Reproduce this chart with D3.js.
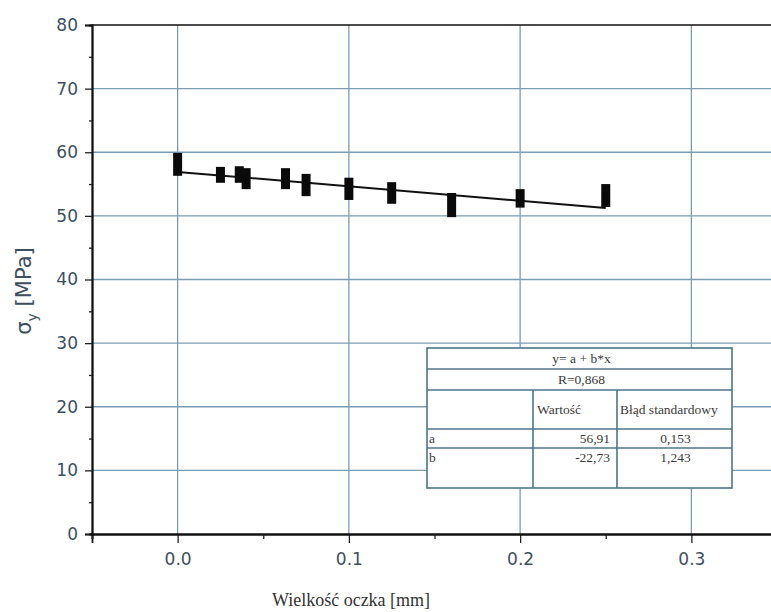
<!DOCTYPE html>
<html lang="pl">
  <head>
    <meta charset="utf-8" />
    <title>Wielkość oczka</title>
    <script src="https://cdn.jsdelivr.net/npm/d3@7"></script>
    <style>
body { margin: 0; background: white; }
    </style>
  </head>
  <body>
    <script>
// mesh size [mm] and measured yield stress range [MPa]
var meshSize = [0, 0.025, 0.036, 0.04, 0.063, 0.075, 0.1, 0.125, 0.16, 0.2, 0.25];
var sigmaLow  = [56.3, 55.2, 55.2, 54.2, 54.2, 53.1, 52.5, 51.9, 49.8, 51.3, 51.4];
var sigmaHigh = [59.9, 57.7, 57.8, 57.5, 57.5, 56.6, 56.0, 55.3, 53.6, 54.2, 55.0];

// linear fit y = a + b*x
var fitA = 56.91;
var fitB = -22.73;
var fitRange = [0, 0.25];

var xTicks = [0.0, 0.1, 0.2, 0.3];
var xMinor = [-0.05, 0.05, 0.15, 0.25, 0.35];
var yTicks = [0, 10, 20, 30, 40, 50, 60, 70, 80];
var yMinor = [5, 15, 25, 35, 45, 55, 65, 75];

var tableTitle = ["y= a + b*x", "R=0,868"];
var tableHead = ["", "Wartość", "Błąd standardowy"];
var paramNames = ["a", "b"];
var paramValues = ["56,91", "-22,73"];
var paramErrors = ["0,153", "1,243"];

var w = 771, h = 612;
var gridColor = "#7b9db3";
var labelColor = "#3d4f5f";
var sans = "'DejaVu Sans', Verdana, sans-serif";
var serif = "'Liberation Serif', 'Times New Roman', serif";

var svg = d3.select("body").append("svg")
            .attr("width", w)
            .attr("height", h);

var x = d3.scaleLinear().domain([-0.05, 0.35]).range([92, 777]);
var y = d3.scaleLinear().domain([0, 80]).range([534, 25]);

// grid
svg.append("g").selectAll("line")
   .data(xTicks).enter().append("line")
   .attr("x1", function(d) { return x(d); })
   .attr("x2", function(d) { return x(d); })
   .attr("y1", y(0)).attr("y2", y(80))
   .attr("stroke", gridColor).attr("stroke-width", 1.3);
svg.append("g").selectAll("line")
   .data(yTicks.slice(1, -1)).enter().append("line")
   .attr("x1", x(-0.05)).attr("x2", w)
   .attr("y1", function(d) { return y(d); })
   .attr("y2", function(d) { return y(d); })
   .attr("stroke", gridColor).attr("stroke-width", 1.3);

// frame top
svg.append("line")
   .attr("x1", x(-0.05)).attr("x2", w)
   .attr("y1", y(80)).attr("y2", y(80))
   .attr("stroke", "#111").attr("stroke-width", 1.5);

// axes
svg.append("g")
   .attr("transform", "translate(0," + y(0) + ")")
   .call(d3.axisBottom(x).tickValues(xTicks).tickFormat(d3.format(".1f"))
           .tickSize(9).tickPadding(10));
svg.append("g")
   .attr("transform", "translate(0," + y(0) + ")")
   .call(d3.axisBottom(x).tickValues(xMinor).tickFormat("").tickSize(5));
svg.append("g")
   .attr("transform", "translate(" + x(-0.05) + ",0)")
   .call(d3.axisLeft(y).tickValues(yTicks).tickSize(7).tickPadding(7));
svg.append("g")
   .attr("transform", "translate(" + x(-0.05) + ",0)")
   .call(d3.axisLeft(y).tickValues(yMinor).tickFormat("").tickSize(3));

svg.selectAll(".domain").attr("stroke", "#111").attr("stroke-width", 1.8);
svg.selectAll(".tick line").attr("stroke", "#222").attr("stroke-width", 1.3);
svg.selectAll(".tick text")
   .attr("font-size", "17px")
   .attr("font-family", sans)
   .attr("fill", labelColor);

// axis titles
svg.append("text")
   .attr("x", 351).attr("y", 606)
   .attr("text-anchor", "middle")
   .attr("font-family", serif)
   .attr("font-size", "18px").attr("fill", "#333")
   .text("Wielkość oczka [mm]");
var yt = svg.append("text")
   .attr("transform", "translate(31,291) rotate(-90)")
   .attr("text-anchor", "middle")
   .attr("font-family", sans)
   .attr("font-size", "21px").attr("fill", labelColor);
yt.append("tspan").text("σ");
yt.append("tspan").attr("font-size", "14px").attr("dy", 6).text("y");
yt.append("tspan").attr("dy", -6).text(" [MPa]");

// fit line
svg.append("line")
   .attr("x1", x(fitRange[0])).attr("y1", y(fitA + fitB * fitRange[0]))
   .attr("x2", x(fitRange[1])).attr("y2", y(fitA + fitB * fitRange[1]))
   .attr("stroke", "#111").attr("stroke-width", 2);

// data markers
svg.append("g").selectAll("rect")
   .data(meshSize).enter().append("rect")
   .attr("x", function(d) { return x(d) - 4.5; })
   .attr("y", function(d, i) { return y(sigmaHigh[i]); })
   .attr("width", 9)
   .attr("height", function(d, i) { return y(sigmaLow[i]) - y(sigmaHigh[i]); })
   .attr("fill", "#0a0a0a");

// fit results table
var tx = 427, tw = 305, colX = [427, 533, 617, 732];
var rowY = [348, 369, 390, 429, 448, 488];
var tcol = "#4d7488";
var tbl = svg.append("g")
   .attr("font-family", serif)
   .attr("font-size", "13.5px").attr("fill", "#3a3a3a");
tbl.append("rect")
   .attr("x", tx).attr("y", rowY[0]).attr("width", tw)
   .attr("height", rowY[5] - rowY[0])
   .attr("fill", "white").attr("stroke", tcol).attr("stroke-width", 1.6);
tbl.selectAll("line.row")
   .data(rowY.slice(1, 5)).enter().append("line")
   .attr("x1", tx).attr("x2", tx + tw)
   .attr("y1", function(d) { return d; }).attr("y2", function(d) { return d; })
   .attr("stroke", tcol).attr("stroke-width", 1.6);
tbl.selectAll("line.col")
   .data(colX.slice(1, 3)).enter().append("line")
   .attr("x1", function(d) { return d; }).attr("x2", function(d) { return d; })
   .attr("y1", rowY[2]).attr("y2", rowY[5])
   .attr("stroke", tcol).attr("stroke-width", 1.6);
tableTitle.forEach(function(t, i) {
  tbl.append("text").attr("x", tx + tw / 2 + 2).attr("y", rowY[i] + 15)
     .attr("text-anchor", "middle").text(t);
});
tbl.append("text").attr("x", colX[1] + 4).attr("y", rowY[2] + 24).text(tableHead[1]);
tbl.append("text").attr("x", colX[2] + 3).attr("y", rowY[2] + 24).text(tableHead[2]);
paramNames.forEach(function(p, i) {
  var ry = rowY[3 + i] + 14;
  tbl.append("text").attr("x", tx + 2).attr("y", ry).text(p);
  tbl.append("text").attr("x", colX[2] - 7).attr("y", ry)
     .attr("text-anchor", "end").text(paramValues[i]);
  tbl.append("text").attr("x", (colX[2] + colX[3]) / 2 + 1).attr("y", ry)
     .attr("text-anchor", "middle").text(paramErrors[i]);
});
    </script>
  </body>
</html>
